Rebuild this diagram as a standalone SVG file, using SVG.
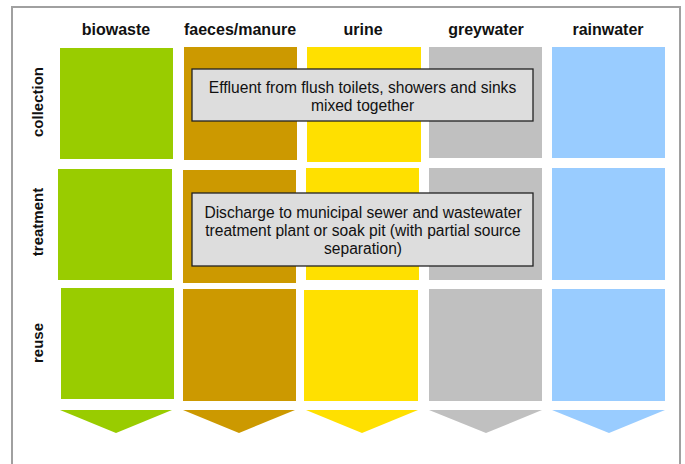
<svg xmlns="http://www.w3.org/2000/svg" width="685" height="464" viewBox="0 0 685 464">
<style>
.hdr{font-family:"Liberation Sans",Arial,sans-serif;font-weight:bold;font-size:16px;fill:#111;text-anchor:middle}
.side{font-family:"Liberation Sans",Arial,sans-serif;font-weight:bold;font-size:15px;fill:#111;text-anchor:middle}
.box{fill:#DDDDDD;stroke:#222;stroke-width:1.3}
.bt{font-family:"Liberation Sans",Arial,sans-serif;font-size:15.6px;fill:#111;text-anchor:middle}
.g{fill:#99CC00}.b{fill:#CC9900}.y{fill:#FFE000}.gr{fill:#C0C0C0}.bl{fill:#99CCFF}
</style>
<rect width="685" height="464" fill="#fff"/>
<path d="M12,464 V7 H680 V464" fill="none" stroke="#A0A0A0" stroke-width="2"/>
<g id="headers">
<text class="hdr" x="116" y="35">biowaste</text>
<text class="hdr" x="240" y="35">faeces/manure</text>
<text class="hdr" x="363" y="35">urine</text>
<text class="hdr" x="486" y="35">greywater</text>
<text class="hdr" x="608" y="35">rainwater</text>
</g>
<g id="row-labels">
<text class="side" transform="translate(43,102) rotate(-90)">collection</text>
<text class="side" transform="translate(43,222) rotate(-90)">treatment</text>
<text class="side" transform="translate(43,343) rotate(-90)">reuse</text>
</g>
<g id="biowaste">
<rect class="g" x="60" y="48" width="113" height="111"/>
<rect class="g" x="58" y="169" width="114" height="111"/>
<rect class="g" x="61" y="288" width="113" height="111"/>
</g>
<g id="faeces">
<rect class="b" x="184" y="47" width="113" height="113"/>
<rect class="b" x="183" y="170" width="113" height="113"/>
<rect class="b" x="183" y="289" width="113" height="112"/>
</g>
<g id="urine">
<rect class="y" x="307" y="47" width="114" height="115"/>
<rect class="y" x="306" y="168" width="113" height="112"/>
<rect class="y" x="304" y="290" width="114" height="111"/>
</g>
<g id="greywater">
<rect class="gr" x="429" y="47" width="113" height="111"/>
<rect class="gr" x="429" y="168" width="113" height="112"/>
<rect class="gr" x="429" y="289" width="113" height="112"/>
</g>
<g id="rainwater">
<rect class="bl" x="552" y="47" width="113" height="111"/>
<rect class="bl" x="552" y="168" width="113" height="112"/>
<rect class="bl" x="552" y="289" width="113" height="112"/>
</g>
<g id="connectors">
<polygon class="g" points="60,410 172,410 116,433"/>
<polygon class="b" points="183,410 295,410 239,433"/>
<polygon class="y" points="306,410 418,410 362,433"/>
<polygon class="gr" points="429,410 542,410 486,433"/>
<polygon class="bl" points="552,410 665,410 609,433"/>
</g>
<g id="box-collection">
<rect class="box" x="192" y="69" width="341" height="52"/>
<text class="bt" x="362.5" y="93">Effluent from flush toilets, showers and sinks</text>
<text class="bt" x="362.5" y="111">mixed together</text>
</g>
<g id="box-treatment">
<rect class="box" x="192" y="193" width="341" height="73"/>
<text class="bt" x="363" y="218">Discharge to municipal sewer and wastewater</text>
<text class="bt" x="363" y="236">treatment plant or soak pit (with partial source</text>
<text class="bt" x="363" y="254">separation)</text>
</g>
</svg>
